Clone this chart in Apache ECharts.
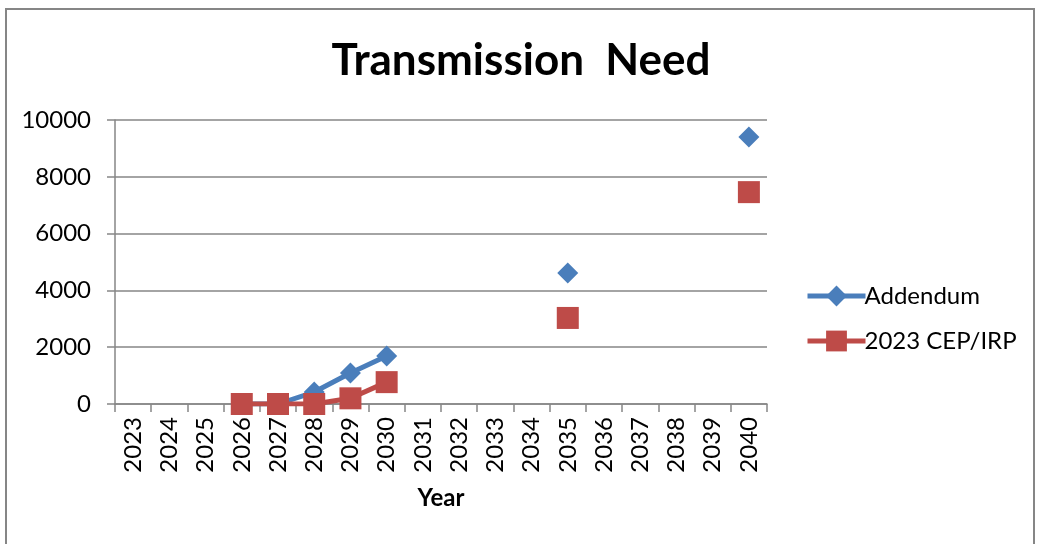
<!DOCTYPE html>
<html>
<head>
<meta charset="utf-8">
<script src="https://cdn.jsdelivr.net/npm/echarts@6/dist/echarts.min.js"></script>
<style>
  html, body { margin: 0; padding: 0; background: #fff; }
  #frame { position: absolute; left: 5px; top: 8px; width: 1030px; height: 560px; border: 2px solid #868686; border-bottom: none; box-sizing: border-box; }
  #chart { position: absolute; left: 0; top: 0; width: 1042px; height: 544px; }
</style>
</head>
<body>
<div id="frame"></div>
<div id="chart"></div>
<script>
// 年份类目
const years = ['2023','2024','2025','2026','2027','2028','2029','2030','2031','2032','2033','2034','2035','2036','2037','2038','2039','2040'];
// Addendum
const addendum = [null, null, null, 0, 0, 420, 1090, 1690, null, null, null, null, 4610, null, null, null, null, 9400];
// 2023 CEP/IRP
const cepIrp = [null, null, null, 0, 0, 0, 200, 770, null, null, null, null, 3030, null, null, null, null, 7460];
const yTicks = [0, 2000, 4000, 6000, 8000, 10000];

const font = 'Lato, "Open Sans", sans-serif';
const chart = echarts.init(document.getElementById('chart'));
chart.setOption({
  animation: false,
  textStyle: { fontFamily: font },
  title: {
    text: 'Transmission  Need',
    left: 'center',
    top: 34,
    textStyle: { fontSize: 44, fontWeight: 'bold', color: '#000', fontFamily: font }
  },
  legend: {
    orient: 'vertical',
    left: 800,
    top: 279,
    itemGap: 21,
    itemWidth: 58,
    itemHeight: 26,
    lineStyle: { width: 5 },
    textStyle: { fontSize: 24, color: '#000', fontFamily: font, padding: [0, 0, 0, -6] },
    data: ['Addendum', '2023 CEP/IRP']
  },
  grid: { left: 115, right: 275, top: 120, bottom: 140 },
  xAxis: {
    type: 'category',
    data: years,
    name: 'Year',
    nameLocation: 'middle',
    nameGap: 82,
    nameTextStyle: { fontSize: 24, fontWeight: 'bold', color: '#000', fontFamily: font },
    axisLine: { lineStyle: { color: '#868686', width: 1.5 } },
    axisTick: { show: true, length: 8, lineStyle: { color: '#868686', width: 1.5 } },
    axisLabel: { rotate: 90, fontSize: 24, color: '#000', margin: 13, interval: 0 }
  },
  yAxis: {
    type: 'value',
    min: 0,
    max: 10000,
    interval: 2000,
    axisLine: { show: true, lineStyle: { color: '#868686', width: 1.5 } },
    axisTick: { show: true, length: 8, lineStyle: { color: '#868686', width: 1.5 } },
    axisLabel: {
      fontSize: 24, color: '#000', margin: 24,
      formatter: v => yTicks.includes(v) ? String(v) : ''
    },
    splitLine: { lineStyle: { color: '#868686', width: 1.5 } }
  },
  series: [
    {
      name: 'Addendum',
      type: 'line',
      data: addendum,
      color: '#4A7EBB',
      symbol: 'diamond',
      symbolSize: 21,
      lineStyle: { width: 5 },
      connectNulls: false
    },
    {
      name: '2023 CEP/IRP',
      type: 'line',
      data: cepIrp,
      color: '#BE4B48',
      symbol: 'rect',
      symbolSize: 22,
      lineStyle: { width: 5 },
      connectNulls: false
    }
  ]
});
</script>
</body>
</html>
